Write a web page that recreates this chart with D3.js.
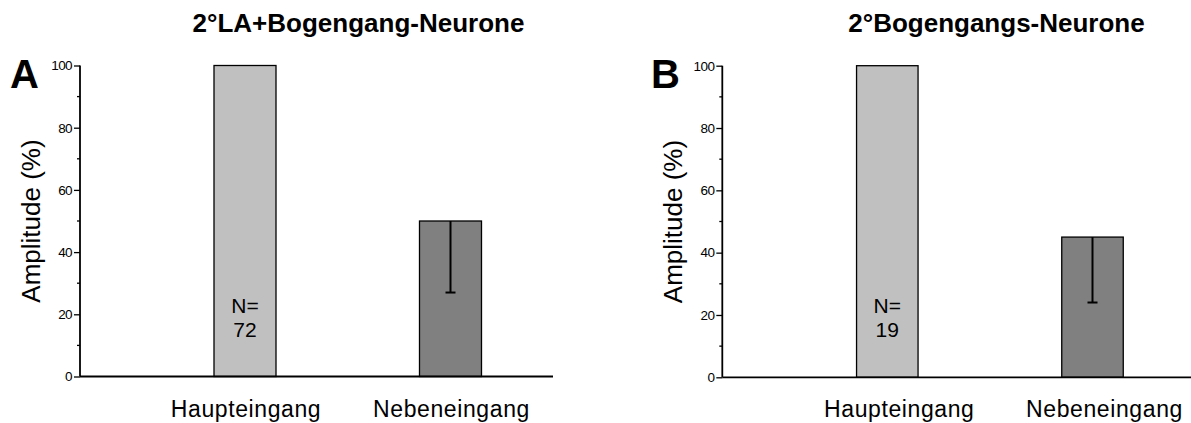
<!DOCTYPE html>
<html>
<head>
<meta charset="utf-8">
<script src="https://cdn.jsdelivr.net/npm/d3@7"></script>
<style>
  html, body { margin: 0; padding: 0; background: #fff; }
  svg { display: block; font-family: Arial, "Liberation Sans", sans-serif; }
</style>
</head>
<body>
<svg id="chart" width="1191" height="423"></svg>
<script>
// Input categories shared by both panels
const categories = ["Haupteingang", "Nebeneingang"];
const yTicks = [0, 20, 40, 60, 80, 100];
const yMinorTicks = [10, 30, 50, 70, 90];

// Panel A: 2°LA+Bogengang-Neurone
const titleA = "2°LA+Bogengang-Neurone";
const valuesA = [100, 50];
const errorsA = [0, 23];      // downward error (SD) per bar
const countA = 72;

// Panel B: 2°Bogengangs-Neurone
const titleB = "2°Bogengangs-Neurone";
const valuesB = [100, 45];
const errorsB = [0, 21];
const countB = 19;

const barColors = ["#c0c0c0", "#808080"];

const svg = d3.select("#chart");

function drawPanel(cfg) {
  const g = svg.append("g");
  const y = d3.scaleLinear().domain([0, 100]).range([cfg.y0, cfg.y100]);
  const x = d3.scalePoint().domain(categories).range(cfg.centers);
  const bw = cfg.barWidth;

  const rows = categories.map((c, i) => ({ cat: c, v: cfg.values[i], e: cfg.errors[i], color: barColors[i] }));

  // bars
  g.selectAll("rect.bar").data(rows).enter().append("rect")
    .attr("class", "bar")
    .attr("x", d => x(d.cat) - bw / 2)
    .attr("width", bw)
    .attr("y", d => y(d.v))
    .attr("height", d => y(0) - y(d.v))
    .attr("fill", d => d.color)
    .attr("stroke", "#000")
    .attr("stroke-width", 1.3);

  // one-sided (downward) error bars
  const eb = rows.filter(d => d.e > 0);
  g.selectAll("line.err").data(eb).enter().append("line")
    .attr("x1", d => x(d.cat)).attr("x2", d => x(d.cat))
    .attr("y1", d => y(d.v)).attr("y2", d => y(d.v - d.e))
    .attr("stroke", "#000").attr("stroke-width", 2);
  g.selectAll("line.cap").data(eb).enter().append("line")
    .attr("x1", d => x(d.cat) - 5).attr("x2", d => x(d.cat) + 5)
    .attr("y1", d => y(d.v - d.e)).attr("y2", d => y(d.v - d.e))
    .attr("stroke", "#000").attr("stroke-width", 2);

  // y axis
  const yAxis = d3.axisLeft(y).tickValues(yTicks).tickSize(6).tickPadding(2).tickFormat(d3.format("d"));
  const ya = g.append("g").attr("transform", `translate(${cfg.axisX},0)`).call(yAxis);
  ya.select(".domain").attr("stroke", "#000").attr("stroke-width", 1.8)
    .attr("d", `M0,${y(0)}V${y(100)}`);
  ya.selectAll(".tick line").attr("stroke", "#000").attr("stroke-width", 1.3);
  ya.selectAll(".tick text").attr("font-size", 13.5).attr("fill", "#000")
    .attr("font-family", "Arial, 'Liberation Sans', sans-serif").attr("letter-spacing", -0.6);
  // minor ticks
  ya.selectAll("line.minor").data(yMinorTicks).enter().append("line")
    .attr("x1", -3).attr("x2", 0)
    .attr("y1", d => y(d)).attr("y2", d => y(d))
    .attr("stroke", "#000").attr("stroke-width", 1.3);

  // x axis baseline
  g.append("line")
    .attr("x1", cfg.axisX).attr("x2", cfg.axisEnd)
    .attr("y1", y(0)).attr("y2", y(0))
    .attr("stroke", "#000").attr("stroke-width", 1.8);

  // category labels
  g.selectAll("text.cat").data(categories).enter().append("text")
    .attr("x", d => x(d) + cfg.labelShift)
    .attr("y", cfg.catY)
    .attr("text-anchor", "middle")
    .attr("font-size", 23)
    .attr("letter-spacing", 0.6)
    .text(d => d);

  // sample size inside the first bar
  const nt = g.append("text")
    .attr("text-anchor", "middle")
    .attr("font-size", 21);
  nt.append("tspan").attr("x", x(categories[0])).attr("y", cfg.nY).text("N=");
  nt.append("tspan").attr("x", x(categories[0])).attr("dy", 24).text(cfg.count);

  // y axis title
  g.append("text")
    .attr("transform", `translate(${cfg.yTitleX},${(y(0) + y(100)) / 2}) rotate(-90)`)
    .attr("text-anchor", "middle")
    .attr("font-size", 26)
    .text("Amplitude (%)");

  // panel title
  g.append("text")
    .attr("x", cfg.titleX).attr("y", 32)
    .attr("text-anchor", "middle")
    .attr("font-size", 26).attr("font-weight", "bold")
    .text(cfg.title);

  // panel letter
  g.append("text")
    .attr("x", cfg.letterX).attr("y", 88)
    .attr("font-size", 40).attr("font-weight", "bold")
    .text(cfg.letter);
}

drawPanel({
  title: titleA, letter: "A", values: valuesA, errors: errorsA, count: countA,
  axisX: 80, axisEnd: 553, y0: 376.5, y100: 65.5,
  centers: [245, 450.5], barWidth: 62, labelShift: 1,
  catY: 417, nY: 313, yTitleX: 40, titleX: 358.5, letterX: 10
});

drawPanel({
  title: titleB, letter: "B", values: valuesB, errors: errorsB, count: countB,
  axisX: 722.3, axisEnd: 1191, y0: 377.3, y100: 65.7,
  centers: [887.3, 1092.5], barWidth: 61.5, labelShift: 12,
  catY: 417, nY: 313, yTitleX: 682, titleX: 996.5, letterX: 651
});
</script>
</body>
</html>
